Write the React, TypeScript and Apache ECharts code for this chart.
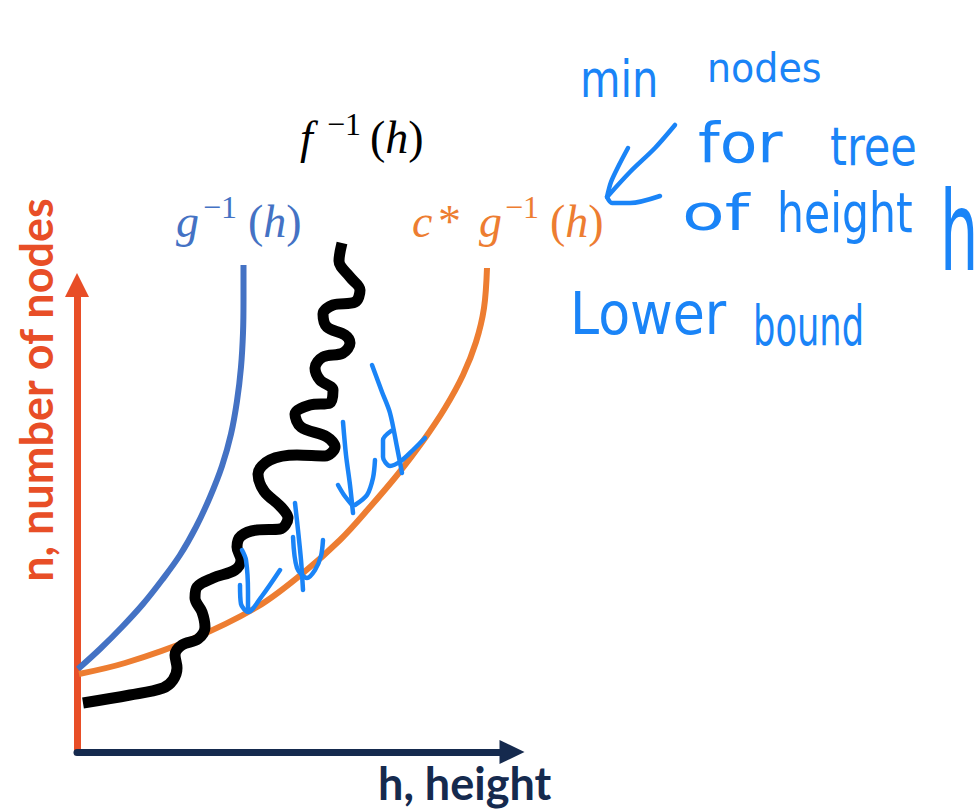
import React, { useEffect, useRef } from "react";
import * as echarts from "echarts";

// Units: h (height) on x, n (number of nodes) on y; 1 unit = 10 px on both axes.
const H_MAX = 43.5;
const N_MAX = 46.7;

// g^-1(h): grows fastest
const gInvH = [0.1, 2.3, 4.5, 6.6, 8.5, 10.3, 11.9, 13.3, 14.5, 15.4, 16.0, 16.4, 16.6, 16.65, 16.65];
const gInvN = [8.3, 10.3, 12.5, 14.8, 17.2, 19.7, 22.5, 25.5, 28.6, 31.8, 35.1, 38.5, 41.9, 45.3, 48.7];

// c * g^-1(h): the lower bound curve
const cgInvH = [0.2, 4.8, 11.3, 18.0, 22.6, 26.3, 29.3, 32.1, 34.6, 36.8, 38.6, 39.9, 40.7, 41.0];
const cgInvN = [7.8, 8.9, 11.2, 14.5, 17.9, 21.2, 24.5, 27.8, 31.1, 34.4, 37.7, 41.0, 44.4, 48.4];

// f^-1(h): the wavy curve between them
const fInvH = [
  0.6, 5.3, 8.6, 9.6, 10.0, 9.8, 10.5, 12.1, 12.8, 12.5, 11.8, 12.0, 13.6, 15.8, 16.4, 16.0,
  16.4, 18.0, 20.3, 21.1, 20.4, 18.7, 18.1, 19.3, 22.0, 24.8, 25.8, 25.0, 22.4, 21.8, 23.3,
  25.3, 25.6, 24.3, 23.8, 24.6, 26.6, 27.3, 26.8, 25.0, 24.6, 25.6, 27.8, 28.3, 27.3, 26.2,
  26.5,
];
const fInvN = [
  4.9, 5.7, 6.4, 7.2, 8.4, 9.7, 10.7, 11.3, 12.5, 14.0, 15.4, 16.5, 17.4, 18.2, 19.2, 20.5,
  21.6, 22.2, 22.3, 23.4, 24.5, 26.1, 27.8, 29.2, 29.7, 29.6, 30.5, 31.5, 32.5, 33.8, 34.7,
  34.9, 36.2, 37.2, 38.4, 39.5, 39.9, 40.9, 41.7, 42.5, 43.8, 44.7, 45.0, 46.2, 47.5, 49.1,
  50.9,
];

// Pen strokes of the annotation, each as [h, n] pairs
const inkStrokes: number[][][] = [
  // arrow toward the lower-bound label
  [[59.8, 62.7], [57.8, 60.4], [55.3, 58.0], [53.1, 55.6]],
  [[55.1, 60.4], [54.2, 58.7], [53.4, 57.0], [53.0, 55.5]],
  [[53.0, 55.5], [53.5, 54.9], [55.3, 54.9], [58.3, 55.6]],
  // first down-hook
  [[16.5, 20.2], [16.9, 19.2], [17.1, 16.0], [17.1, 14.2]],
  [[16.3, 16.7], [16.4, 14.8], [17.1, 14.0], [18.5, 15.6], [20.3, 18.2]],
  // second down-hook
  [[21.8, 24.9], [22.1, 22.2], [22.4, 19.2], [22.6, 16.2]],
  [[24.6, 21.2], [24.4, 19.6], [23.8, 18.2], [23.0, 17.4], [22.0, 18.4], [21.6, 21.5]],
  // third down-hook
  [[26.6, 33.0], [26.9, 29.7], [27.3, 26.7], [27.6, 23.9]],
  [[26.1, 26.7], [26.7, 25.7], [27.5, 24.7]],
  [[29.8, 29.2], [29.6, 27.4], [29.0, 25.7], [27.8, 24.7]],
  // fourth down-hook
  [[29.5, 38.7], [30.5, 36.0], [31.3, 33.9], [32.0, 30.5], [32.5, 27.9]],
  [[31.4, 32.1], [30.6, 31.2], [30.6, 29.5], [31.3, 28.6], [32.4, 29.1], [33.6, 30.2], [34.8, 31.4]],
];

// Handwritten note: [word, left, baseline, size, scaleX, scaleY]
const noteWords: [string, number, number, number, number, number][] = [
  ["min", 580, 97, 52, 0.8, 1],
  ["nodes", 707, 82, 40, 0.95, 1],
  ["for", 698, 162, 56, 1.1, 1],
  ["tree", 830, 165, 48, 0.9, 1.1],
  ["of", 682, 230, 50, 1.4, 1],
  ["height", 777, 232, 56, 0.76, 1],
  ["h", 940, 270, 110, 0.55, 1],
  ["Lower", 570, 334, 58, 0.9, 1],
  ["bound", 753, 345, 56, 0.63, 1],
];

const NAVY = "#152a4e";
const RED = "#e84e27";
const BLUE = "#4472c4";
const ORANGE = "#ed7d31";
const INK = "#1a84f7";

const SERIF = '"Liberation Serif", "Times New Roman", serif';
const SERIF_C = 0.3375; // central-baseline offset (em) for the serif face
const LATO_C = 0.387;
const DEJAVU_C = 0.346;

const zip = (xs: number[], ys: number[]) => xs.map((x, i) => [x, ys[i]]);

function serifText(text: string, x: number, baseline: number, size: number, color: string, italic = false) {
  return {
    type: "text",
    x,
    y: baseline - SERIF_C * size,
    silent: true,
    style: {
      text,
      fill: color,
      font: `${italic ? "italic " : ""}${size}px ${SERIF}`,
      align: "left",
      verticalAlign: "middle",
      rich: {
        i: { fontStyle: "italic", fontSize: size, fontFamily: SERIF, fill: color },
      },
    },
  };
}

// One math label: base glyph(s), superscript "−1", then "(h)"
function mathLabel(
  color: string,
  parts: { text: string; x: number; italic?: boolean }[],
  supX: number,
  argX: number,
) {
  const base = 237;
  return [
    ...parts.map((p) => serifText(p.text, p.x, base, 46, color, p.italic)),
    serifText("\u22121", supX, base - 19, 32, color),
    serifText("({i|h})", argX, base, 46, color),
  ];
}

const hiddenAxis = {
  show: false,
  axisLine: { show: false },
  axisTick: { show: false },
  axisLabel: { show: false },
  splitLine: { show: false },
};

export default function App() {
  const ref = useRef<HTMLDivElement>(null);

  useEffect(() => {
    document.body.style.margin = "0";
    const chart = echarts.init(ref.current!, null, { renderer: "svg" });

    const curve = (name: string, data: number[][], color: string, width: number) => ({
      name,
      type: "line",
      data,
      smooth: 0.35,
      symbol: "none",
      showSymbol: false,
      clip: false,
      silent: true,
      emphasis: { disabled: true },
      lineStyle: { color, width, cap: "butt", join: "round" },
    });

    // pen strokes live on a second, invisible grid sharing the same units
    const inkSeries = inkStrokes.map((stroke, i) => ({
      name: `ink${i}`,
      type: "line",
      xAxisIndex: 1,
      yAxisIndex: 1,
      data: stroke,
      smooth: 0.3,
      symbol: "none",
      showSymbol: false,
      clip: false,
      silent: true,
      emphasis: { disabled: true },
      lineStyle: { color: INK, width: 4.5, cap: "round", join: "round" },
    }));

    const fLabel = [
      serifText("f", 300, 153, 46, "#000", true),
      serifText("\u22121", 327, 135, 32, "#000"),
      serifText("({i|h})", 370, 153, 46, "#000"),
    ];
    const gLabel = mathLabel(BLUE, [{ text: "g", x: 176, italic: true }], 203, 248);
    const cgLabel = mathLabel(
      ORANGE,
      [
        { text: "c", x: 412, italic: true },
        { text: "*", x: 438 },
        { text: "g", x: 479, italic: true },
      ],
      505,
      550,
    );

    const notes = noteWords.map(([text, x, baseline, size, sx, sy]) => ({
      type: "text",
      x,
      y: baseline - DEJAVU_C * size * sy,
      scaleX: sx,
      scaleY: sy,
      silent: true,
      style: {
        text,
        fill: INK,
        font: `${size}px "DejaVu Sans", sans-serif`,
        align: "left",
        verticalAlign: "middle",
      },
    }));

    const axisLabelSize = 45;

    chart.setOption({
      animation: false,
      backgroundColor: "#ffffff",
      grid: [
        { left: 77, top: 285, width: 435, height: 467 },
        { left: 77, top: 0, width: 902, height: 752 },
      ],
      xAxis: [
        {
          type: "value",
          gridIndex: 0,
          min: 0,
          max: H_MAX,
          axisLine: {
            show: true,
            onZero: false,
            symbol: ["none", "triangle"],
            symbolSize: [24, 25],
            lineStyle: { color: NAVY, width: 7 },
          },
          axisTick: { show: false },
          axisLabel: { show: false },
          splitLine: { show: false },
        },
        { type: "value", gridIndex: 1, min: 0, max: 90.2, ...hiddenAxis },
      ],
      yAxis: [
        {
          type: "value",
          gridIndex: 0,
          min: 0,
          max: N_MAX,
          axisLine: {
            show: true,
            onZero: false,
            symbol: ["none", "triangle"],
            symbolSize: [24, 24],
            lineStyle: { color: RED, width: 7 },
          },
          axisTick: { show: false },
          axisLabel: { show: false },
          splitLine: { show: false },
        },
        { type: "value", gridIndex: 1, min: 0, max: 75.2, ...hiddenAxis },
      ],
      series: [
        curve("g^-1(h)", zip(gInvH, gInvN), BLUE, 6),
        curve("c*g^-1(h)", zip(cgInvH, cgInvN), ORANGE, 6),
        curve("f^-1(h)", zip(fInvH, fInvN), "#000000", 11),
        ...inkSeries,
      ],
      graphic: [
        ...fLabel,
        ...gLabel,
        ...cgLabel,
        ...notes,
        {
          type: "text",
          x: 378,
          y: 800 - LATO_C * axisLabelSize,
          silent: true,
          style: {
            text: "h, height",
            fill: NAVY,
            font: `bold ${axisLabelSize}px Lato, sans-serif`,
            align: "left",
            verticalAlign: "middle",
          },
        },
        {
          type: "text",
          x: 53 - LATO_C * axisLabelSize,
          y: 390,
          rotation: Math.PI / 2,
          silent: true,
          style: {
            text: "n, number of nodes",
            fill: RED,
            font: `bold ${axisLabelSize}px Lato, sans-serif`,
            align: "center",
            verticalAlign: "middle",
          },
        },
      ],
    });

    return () => chart.dispose();
  }, []);

  return (
    <div
      ref={ref}
      style={{ position: "fixed", left: 0, top: 0, width: 979, height: 811, background: "#fff" }}
    />
  );
}
